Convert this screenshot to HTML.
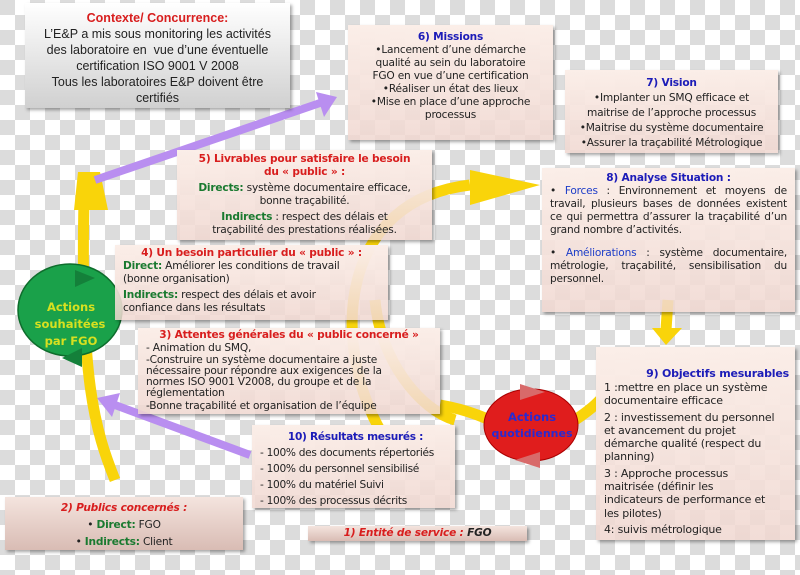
<!DOCTYPE html>
<html><head><meta charset="utf-8"><style>
*{margin:0;padding:0;box-sizing:border-box}
body{width:800px;height:575px;overflow:hidden;position:relative;font-family:"DejaVu Sans",sans-serif;
background-color:#fff;
background-image:repeating-conic-gradient(#dcdcdc 0 25%,#fff 0 50%);
background-size:30px 30px;background-position:0 -15px}
.b{position:absolute;background:linear-gradient(#fbeee8,rgba(240,215,208,0.85));box-shadow:2px 2px 3px rgba(0,0,0,.35);font-size:10.6px;letter-spacing:-0.2px;line-height:13px;color:#222;text-align:center}
.r{color:#d81e1e;font-weight:bold}
.bl{color:#1c1cb8;font-weight:bold}
.g{color:#1a7a30;font-weight:bold}
svg{position:absolute;left:0;top:0}
.l{text-align:left}
</style></head><body>
<svg width="800" height="575">
<g fill="none" stroke="#f9d40a" stroke-width="11">
<path d="M115 480 C95 430 80 380 84 200"/>
<path d="M380 430 C330 340 340 200 470 185"/>
<path d="M455 420 C420 410 380 360 375 300"/>
<path d="M668 300 L666 330"/>
<path d="M575 420 C590 410 595 405 600 400"/>
<path d="M440 405 C470 410 490 420 500 425"/>
</g>
<polygon points="78,172 100,172 108,210 74,210" fill="#f9d40a"/>
<polygon points="470,170 540,185 470,205" fill="#f9d40a"/>
<polygon points="652,328 682,328 666,345" fill="#f9d40a"/>
<g stroke="#b98ef0" stroke-width="8" fill="none">
<path d="M95 180 L320 103"/>
<path d="M250 455 L115 405"/>
</g>
<polygon points="337,97 316,92 324,117" fill="#b98ef0"/>
<polygon points="97,398 120,393 112,417" fill="#b98ef0"/>
<ellipse cx="70" cy="310" rx="52" ry="46" fill="#1aa14a" stroke="#0e6d2c" stroke-width="1.5"/>
<polygon points="75,270 95,278 75,287" fill="#14803a"/>
<polygon points="82,348 62,358 82,367" fill="#14803a"/>
<ellipse cx="531" cy="425" rx="47" ry="36" fill="#e01d1d" stroke="#a00" stroke-width="1"/>
<polygon points="520,384 545,392 520,400" fill="#d86a6a"/>
<polygon points="540,452 515,460 540,468" fill="#d86a6a"/>
<text x="71" y="311" font-family="DejaVu Sans" font-weight="bold" font-size="11.5" fill="#d7e020" text-anchor="middle">Actions</text>
<text x="70" y="328" font-family="DejaVu Sans" font-weight="bold" font-size="11.5" fill="#d7e020" text-anchor="middle">souhaitées</text>
<text x="71" y="345" font-family="DejaVu Sans" font-weight="bold" font-size="11.5" fill="#d7e020" text-anchor="middle">par FGO</text>
<text x="532" y="421" font-family="DejaVu Sans" font-weight="bold" font-size="11.5" fill="#2a2ad0" text-anchor="middle">Actions</text>
<text x="532" y="437" font-family="DejaVu Sans" font-weight="bold" font-size="11" fill="#2a2ad0" text-anchor="middle">quotidiennes</text>
</svg>

<div class="b" style="left:25px;top:3px;width:265px;height:105px;background:linear-gradient(#fff,#d0d0d0);font-family:'Liberation Sans',sans-serif;font-size:12.5px;letter-spacing:0;line-height:16px;padding-top:7px"><span class="r" style="font-family:'Liberation Sans'">Contexte/ Concurrence:</span><br>L’E&amp;P a mis sous monitoring les activités<br>des laboratoire en&nbsp; vue d’une éventuelle<br>certification ISO 9001 V 2008<br>Tous les laboratoires E&amp;P doivent être<br>certifiés</div>

<div class="b" style="left:348px;top:25px;width:205px;height:115px;padding-top:6px"><span class="bl">6) Missions</span><br>•Lancement d’une démarche<br>qualité au sein du laboratoire<br>FGO en vue d’une certification<br>•Réaliser un état des lieux<br>•Mise en place d’une approche<br>processus</div>

<div class="b" style="left:565px;top:70px;width:213px;height:83px;padding-top:6px;line-height:15px"><span class="bl">7) Vision</span><br>•Implanter un SMQ efficace et<br>maitrise de l’approche processus<br>•Maitrise du système documentaire<br>•Assurer la traçabilité Métrologique</div>

<div class="b" style="left:542px;top:168px;width:253px;height:144px;padding:4px 8px;text-align:justify"><div class="bl" style="text-align:center">8) Analyse Situation :</div>• <span style="color:#1c3cc8">Forces</span> : Environnement et moyens de travail, plusieurs bases de données existent ce qui permettra d’assurer la traçabilité d’un grand nombre d’activités.<div style="height:10px"></div>• <span style="color:#1c3cc8">Améliorations</span> : système documentaire, métrologie, traçabilité, sensibilisation du personnel.</div>

<div class="b l" style="left:596px;top:347px;width:199px;height:193px;padding:19px 6px 0 8px;font-size:11px;line-height:13.3px"><div class="bl" style="text-align:right;line-height:15px">9) Objectifs mesurables</div>1 :mettre en place un système<br>documentaire efficace<div style="height:3px"></div>2 : investissement du personnel<br>et avancement du projet<br>démarche qualité (respect du<br>planning)<div style="height:3px"></div>3 : Approche processus<br>maitrisée (définir les<br>indicateurs de performance et<br>les pilotes)<div style="height:3px"></div>4: suivis métrologique</div>

<div class="b" style="left:177px;top:150px;width:255px;height:90px;padding-top:3px"><span class="r">5) Livrables pour satisfaire le besoin<br>du « public » :</span><div style="height:3px"></div><span class="g">Directs:</span> système documentaire efficace,<br>bonne traçabilité.<div style="height:3px"></div><span class="g">Indirects</span> : respect des délais et<br>traçabilité des prestations réalisées.</div>

<div class="b l" style="left:115px;top:245px;width:273px;height:75px;padding:2px 8px"><div class="r" style="text-align:center">4) Un besoin particulier du « public » :</div><span class="g">Direct:</span> Améliorer les conditions de travail<br>(bonne organisation)<div style="height:3px"></div><span class="g">Indirects:</span> respect des délais et avoir<br>confiance dans les résultats</div>

<div class="b l" style="left:138px;top:328px;width:302px;height:86px;padding:0 8px;line-height:11px"><div class="r" style="text-align:center;line-height:14px">3) Attentes générales du « public concerné »</div><div style="line-height:13px">- Animation du SMQ,</div>-Construire un système documentaire a juste<br>nécessaire pour répondre aux exigences de la<br>normes ISO 9001 V2008, du groupe et de la<br>réglementation<div style="line-height:14px">-Bonne traçabilité et organisation de l’équipe</div></div>

<div class="b l" style="left:252px;top:425px;width:203px;height:83px;padding:4px 4px 4px 8px;line-height:16px;white-space:nowrap;letter-spacing:-0.3px"><div class="bl" style="text-align:center">10) Résultats mesurés :</div>- 100% des documents répertoriés<br>- 100% du personnel sensibilisé<br>- 100% du matériel Suivi<br>- 100% des processus décrits</div>

<div class="b" style="left:5px;top:497px;width:238px;height:53px;padding-top:3px;line-height:17px;background:linear-gradient(#f4e4de,#d9bcb4)"><span class="r" style="font-style:italic">2) Publics concernés :</span><br>• <span class="g">Direct:</span> FGO<br>• <span class="g">Indirects:</span> Client</div>

<div class="b" style="left:308px;top:526px;width:219px;height:15px;line-height:15px;background:linear-gradient(#f4e4de,#d9bcb4);font-style:italic;font-weight:bold"><span style="color:#d81e1e">1) Entité de service :</span> FGO</div>
</body></html>
